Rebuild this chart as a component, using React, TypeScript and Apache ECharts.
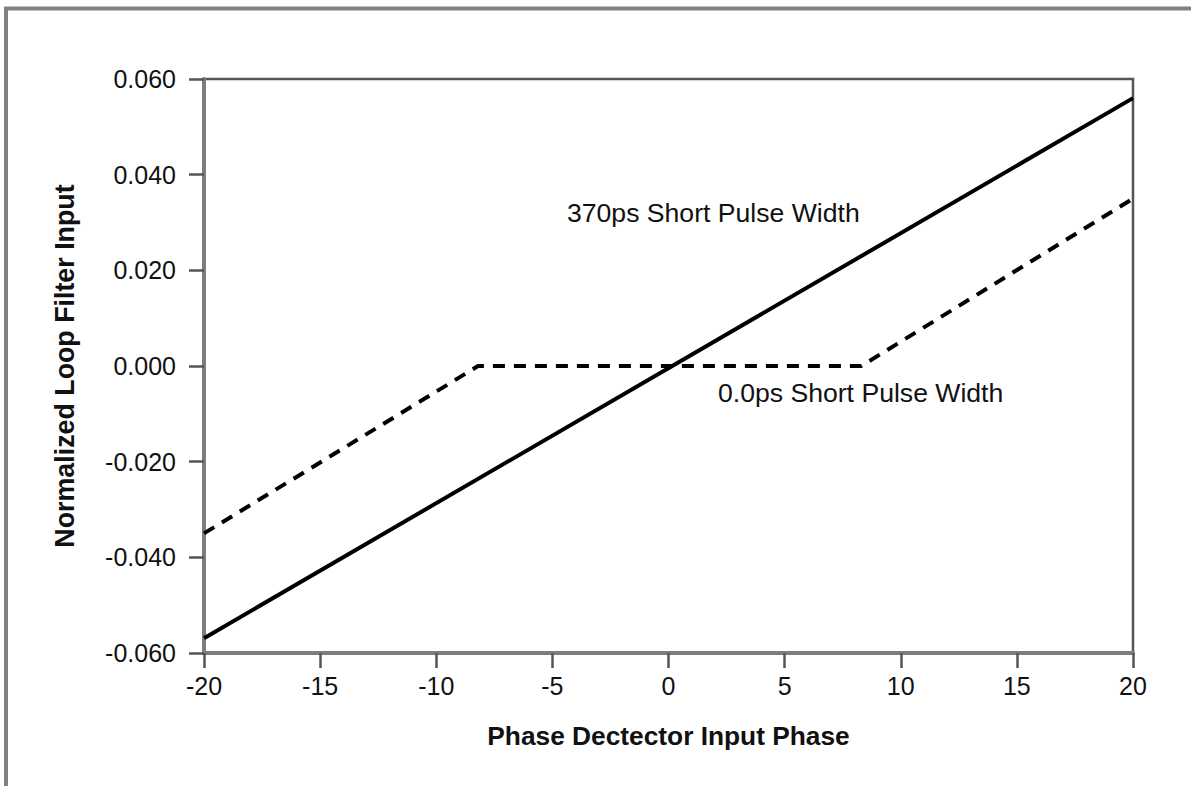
import React, { useEffect, useRef } from "react";
import * as echarts from "echarts";

const xTicks = [-20, -15, -10, -5, 0, 5, 10, 15, 20];
const yTicks = [-0.06, -0.04, -0.02, 0, 0.02, 0.04, 0.06];

const solidX = [-20, 20];
const solidY = [-0.0569, 0.056];

const dashedX = [-20, -8.2, 8.3, 20];
const dashedY = [-0.035, 0, 0, 0.035];

const solidLabel = "370ps Short Pulse Width";
const dashedLabel = "0.0ps Short Pulse Width";
const xName = "Phase Dectector Input Phase";
const yName = "Normalized Loop Filter Input";

const FONT = 'Arial, "Liberation Sans", Helvetica, sans-serif';

export default function App() {
  const ref = useRef<HTMLDivElement>(null);
  useEffect(() => {
    if (!ref.current) return;
    const chart = echarts.init(ref.current, undefined, { renderer: "svg" });
    const axisLine = { show: true, onZero: false, lineStyle: { color: "#7d7d7d", width: 4 } };
    chart.setOption({
      animation: false,
      backgroundColor: "#fff",
      grid: {
        left: 204,
        top: 79,
        right: 58,
        bottom: 133,
        show: true,
        borderColor: "#555",
        borderWidth: 2.5,
        backgroundColor: "transparent",
      },
      xAxis: {
        type: "value",
        min: xTicks[0],
        max: xTicks[xTicks.length - 1],
        interval: 5,
        axisLine,
        axisTick: { show: true, inside: false, length: 15, lineStyle: { color: "#555", width: 2.5 } },
        splitLine: { show: false },
        axisLabel: {
          margin: 20,
          color: "#111",
          fontSize: 25,
          fontFamily: FONT,
          formatter: (v: number) => String(v),
        },
      },
      yAxis: {
        type: "value",
        min: yTicks[0],
        max: yTicks[yTicks.length - 1],
        interval: 0.02,
        axisLine,
        axisTick: { show: true, inside: false, length: 15, lineStyle: { color: "#555", width: 2.5 } },
        splitLine: { show: false },
        axisLabel: {
          margin: 28,
          color: "#111",
          fontSize: 25,
          fontFamily: FONT,
          formatter: (v: number) => (Math.abs(v) < 1e-9 ? 0 : v).toFixed(3),
        },
      },
      series: [
        {
          type: "line",
          data: solidX.map((x, i) => [x, solidY[i]]),
          showSymbol: false,
          lineStyle: { color: "#000", width: 4 },
          z: 3,
        },
        {
          type: "line",
          data: dashedX.map((x, i) => [x, dashedY[i]]),
          showSymbol: false,
          lineStyle: { color: "#000", width: 4, type: [12, 9] },
          z: 3,
        },
      ],
      graphic: [
        {
          type: "rect",
          shape: { x: 6, y: 8.5, width: 1400, height: 1000 },
          style: { fill: "none", stroke: "#808080", lineWidth: 4 },
          silent: true,
        },
        {
          type: "text",
          x: 567,
          y: 213,
          style: { text: solidLabel, fill: "#111", font: `26.6px ${FONT}`, textVerticalAlign: "middle" },
        },
        {
          type: "text",
          x: 718,
          y: 393,
          style: { text: dashedLabel, fill: "#111", font: `26.6px ${FONT}`, textVerticalAlign: "middle" },
        },
        {
          type: "text",
          x: 668.5,
          y: 736,
          style: {
            text: xName,
            fill: "#111",
            font: `bold 26.3px ${FONT}`,
            textAlign: "center",
            textVerticalAlign: "middle",
          },
        },
        {
          type: "text",
          x: 65,
          y: 366,
          rotation: Math.PI / 2,
          style: {
            text: yName,
            fill: "#111",
            font: `bold 26.8px ${FONT}`,
            textAlign: "center",
            textVerticalAlign: "middle",
          },
        },
      ],
    });
    return () => chart.dispose();
  }, []);
  return (
    <div
      ref={ref}
      style={{ position: "absolute", left: 0, top: 0, width: 1191, height: 786 }}
    />
  );
}
